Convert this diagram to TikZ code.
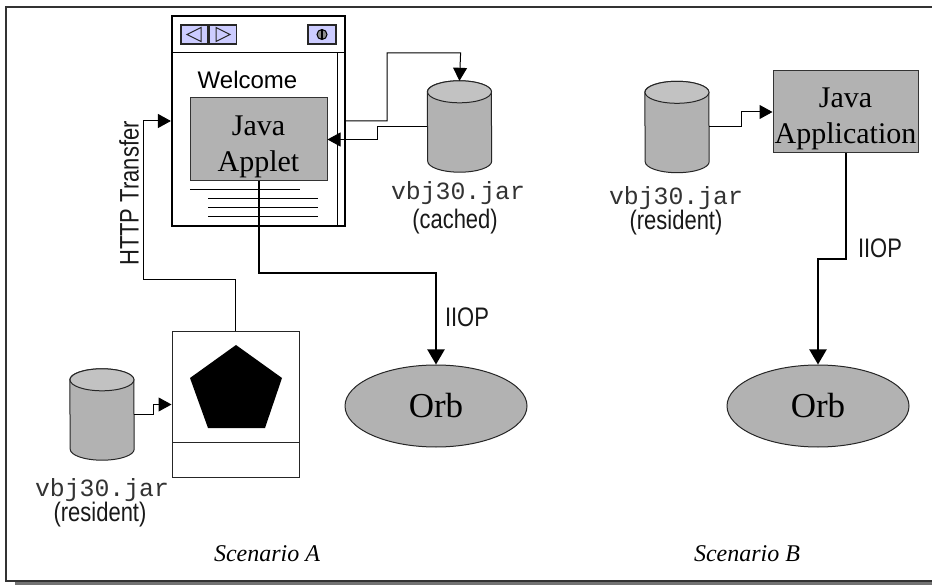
\documentclass[tikz,border=0pt]{standalone}
\usepackage{fontspec}
\setmainfont{Liberation Serif}
\setsansfont{Liberation Sans}
\setmonofont{Liberation Mono}
\newfontfamily\narrowfont[FakeStretch=0.82]{Liberation Sans}
\usetikzlibrary{arrows.meta, positioning, shapes.geometric}
\definecolor{boxgray}{gray}{0.70}
\definecolor{lidgray}{gray}{0.76}
\definecolor{btnblue}{RGB}{204,204,255}
\tikzset{
    node distance = 6pt and 6pt,
    box/.style = {draw=black!80, fill=boxgray, line width=1pt, inner sep=0pt},
    boxtext/.style = {align=center, inner sep=0pt, yshift=-7pt, font=\fontsize{30}{36}\selectfont},
    jar/.style = {minimum width=64pt, minimum height=91pt, inner sep=0pt},
    jarbody/.style = {draw=black!85, fill=boxgray, line width=1pt},
    jarlid/.style = {draw=black!85, fill=lidgray, line width=1pt},
    orb/.style = {ellipse, draw=black!85, fill=boxgray, line width=1pt, inner sep=0pt, minimum width=182pt, minimum height=82pt, font=\fontsize{35}{35}\selectfont},
    btn/.style = {draw=black!85, fill=btnblue, line width=1.5pt, minimum width=27pt, minimum height=19pt, inner sep=0pt},
    link/.style = {draw=black, line width=1pt, -{Triangle[length=13pt,width=14pt]}},
    iiop/.style = {draw=black, line width=2pt, -{Triangle[length=15pt,width=17pt]}},
    jarname/.style = {text=black!80, font=\ttfamily\fontsize{24.8}{24.8}\selectfont, inner sep=0pt},
    note/.style = {text=black!90, font=\narrowfont\fontsize{26.8}{26.8}\selectfont, inner sep=0pt},
    scen/.style = {font=\itshape\fontsize{24}{24}\selectfont, inner sep=0pt}
}
\begin{document}
\begin{tikzpicture}[x=1pt, y=-1pt]
    \useasboundingbox (0,0) rectangle (932,585);
    \clip (0,0) rectangle (932,585);
    \fill[black!55] (15,581) rectangle (940,585); % shadow of the frame
    \draw[draw=black!80, fill=white, line width=1.3pt] (6,7) rectangle (940,581);

    % browser window
    \node[draw=black, line width=2.2pt, fill=white, minimum width=173pt, minimum height=210pt, inner sep=0pt] (browser) at (258.5,121) {};
    \draw[line width=1pt] (172,53) -- (345,53);
    \draw[line width=1pt] (337,53) -- (337,226);
    \node[btn] (back) at (194.5,34.5) {};
    \node[btn, right=0pt of back] (forward) {};
    \node[btn, minimum width=28pt] (info) at (322,34.5) {};
    \draw[black!85, line width=1pt, fill=btnblue] (201,27.5) -- (201,41.5) -- (187,34.5) -- cycle;
    \draw[black!85, line width=1pt, fill=btnblue] (216,27.5) -- (216,41.5) -- (230,34.5) -- cycle;
    \node[circle, draw=black, fill=black!45, line width=1pt, minimum size=10pt, inner sep=0pt] (globe) at (322,34.5) {};
    \draw[black, line width=1.2pt] (322,29.5) -- (322,39.5);
    \node[font=\sffamily\fontsize{24}{24}\selectfont, inner sep=0pt] (welcome) at (247.5,80) {Welcome};
    \node[box, minimum width=137pt, minimum height=83pt] (applet) at (258.5,139.5) {};
    \node[boxtext] (appletname) at (applet) {Java\\Applet};
    \draw[line width=1pt] (190,190) -- (300,190);
    \foreach \y in {199,208,217}
        \draw[line width=1pt] (208,\y) -- (318,\y);

    % scenario A
    \node[jar] (jarC) at (459.5,126.5) {};
    \node[jarname] (nameC) at (458,193) {vbj30.jar};
    \node[note] (cached) at (455,222) {(cached)};
    \node[draw=black!85, fill=white, line width=1pt, minimum width=127pt, minimum height=145pt, inner sep=0pt] (server) at (235.5,404.5) {};
    \draw[black!85, line width=1pt] (172,442) -- (299,442);
    \fill[black] (236,345) -- (282,378) -- (265,428) -- (208,428) -- (190,378) -- cycle;
    \node[jar] (jarA) at (102,414.5) {};
    \node[jarname] (nameA) at (102,490) {vbj30.jar};
    \node[note] (residentA) at (100,515) {(resident)};
    \node[orb] (orbA) at (436,406) {Orb};
    \node[note, rotate=90] (http) at (129,193.5) {HTTP Transfer};
    \node[note] (iiopA) at (467,317) {IIOP};
    \node[scen] (scenA) at (267,554) {Scenario A};

    % scenario B
    \node[jar] (jarB) at (677,127) {};
    \node[jarname] (nameB) at (676,198) {vbj30.jar};
    \node[note] (residentB) at (676,223) {(resident)};
    \node[box, minimum width=145pt, minimum height=82pt] (app) at (845.5,112) {};
    \node[boxtext] (appname) at (app) {Java\\Application};
    \node[orb] (orbB) at (818,406) {Orb};
    \node[note] (iiopB) at (880,248) {IIOP};
    \node[scen] (scenB) at (747,554) {Scenario B};

    % the jars
    \foreach \j in {jarA,jarB,jarC} {
        \draw[jarbody] ([yshift=-11pt]\j.north west) arc (180:0:32pt and 11pt) -- ([yshift=11pt]\j.south east) arc (360:180:32pt and 11pt) -- cycle;
        \draw[jarlid] ([yshift=-11pt]\j.north) ellipse (32pt and 11pt);
    }

    % connectors
    \draw[link] (browser.east) -- ++(41,0) |- ++(73.5,-68) -- (jarC.north);
    \draw[link] (jarC.west) -- ++(-50,0) |- (applet.east);
    \draw[link] (jarA.east) -- ++(19,0) |- (server.west);
    \draw[link] (server.north) |- ++(-92,-52) |- (browser.west);
    \draw[iiop] (applet.south) -- ++(0,92) -| (orbA.north);
    \draw[link] (jarB.east) -- ++(32,0) |- (app.west);
    \draw[iiop] (app.south) -- ++(0,106) -| (orbB.north);
\end{tikzpicture}
\end{document}
